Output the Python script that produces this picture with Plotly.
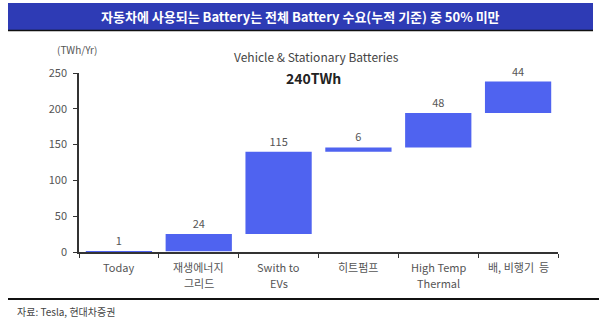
import plotly.graph_objects as go

categories = ["Today", "재생에너지<br>그리드", "Swith to<br>EVs", "히트펌프", "High Temp<br>Thermal", "배, 비행기  등"]
values = [1, 24, 115, 6, 48, 44]
labels = ["1", "24", "115", "6", "48", "44"]
y_ticks = [0, 50, 100, 150, 200, 250]

W, H = 599, 328
L, R, T, B = 79, 41, 73, 76
PW, PH = W - L - R, H - T - B

def px(x):
    return (x - L) / PW

def py(y):
    return (H - B - y) / PH

FONT = "Noto Sans CJK KR, Noto Sans, sans-serif"

fig = go.Figure(go.Waterfall(
    x=categories,
    y=values,
    measure=["relative"] * len(values),
    text=labels,
    textposition="outside",
    textfont=dict(size=11, color="#555555", family=FONT),
    increasing=dict(marker=dict(color="#4F63F0")),
    connector=dict(visible=False),
    cliponaxis=False,
))

annotations = [
    dict(text="<b>자동차에 사용되는 Battery는 전체 Battery 수요(누적 기준) 중 50% 미만</b>",
         x=px(300), y=py(16), xref="paper", yref="paper",
         showarrow=False, font=dict(size=13, color="white", family=FONT),
         xanchor="center", yanchor="middle"),
    dict(text="(TWh/Yr)", x=px(55), y=py(50), xref="paper", yref="paper",
         showarrow=False, xanchor="left", yanchor="middle",
         font=dict(size=10, color="#555555", family=FONT)),
    dict(text="Vehicle & Stationary Batteries", x=px(316), y=py(56),
         xref="paper", yref="paper", showarrow=False,
         xanchor="center", yanchor="middle",
         font=dict(size=12, color="#444444", family=FONT)),
    dict(text="<b>240TWh</b>", x=px(313), y=py(78),
         xref="paper", yref="paper", showarrow=False,
         xanchor="center", yanchor="middle",
         font=dict(size=14, color="#222222", family=FONT)),
    dict(text="자료: Tesla, 현대차증권", x=px(15), y=py(311),
         xref="paper", yref="paper", showarrow=False,
         xanchor="left", yanchor="middle",
         font=dict(size=10, color="#444444", family=FONT)),
]

# x category labels, drawn line by line for wider line spacing
for cat in categories:
    for i, line in enumerate(cat.split("<br>")):
        annotations.append(dict(
            text=line, x=cat, xref="x", y=py(267 + 16 * i), yref="paper",
            showarrow=False, xanchor="center", yanchor="middle",
            font=dict(size=11, color="#555555", family=FONT)))

fig.update_layout(
    width=W, height=H,
    margin=dict(l=L, r=R, t=T, b=B),
    paper_bgcolor="white", plot_bgcolor="white",
    showlegend=False,
    waterfallgap=0.17,
    font=dict(family=FONT, size=11, color="#555555"),
    xaxis=dict(
        showline=True, linecolor="#333333", linewidth=1.5,
        ticks="outside", tickson="boundaries", ticklen=4, tickcolor="#333333",
        showticklabels=False,
        showgrid=False,
    ),
    yaxis=dict(
        range=[0, 250], tickvals=y_ticks,
        showline=True, linecolor="#333333", linewidth=1.5,
        ticks="outside", ticklen=4, tickcolor="#333333",
        ticklabelstandoff=4,
        showgrid=False, zeroline=False,
        tickfont=dict(size=11, color="#555555"),
    ),
    shapes=[
        dict(type="rect", xref="paper", yref="paper",
             x0=px(8), x1=px(593), y0=py(30), y1=py(3),
             fillcolor="#2E3BB5", line=dict(width=0), layer="above"),
        dict(type="line", xref="paper", yref="paper",
             x0=px(8), x1=px(593), y0=py(30.5), y1=py(30.5),
             line=dict(color="#111111", width=1.5)),
        dict(type="line", xref="paper", yref="paper",
             x0=px(8), x1=px(599), y0=py(299), y1=py(299),
             line=dict(color="#111111", width=2)),
    ],
    annotations=annotations,
)

fig.write_html("out.html")
